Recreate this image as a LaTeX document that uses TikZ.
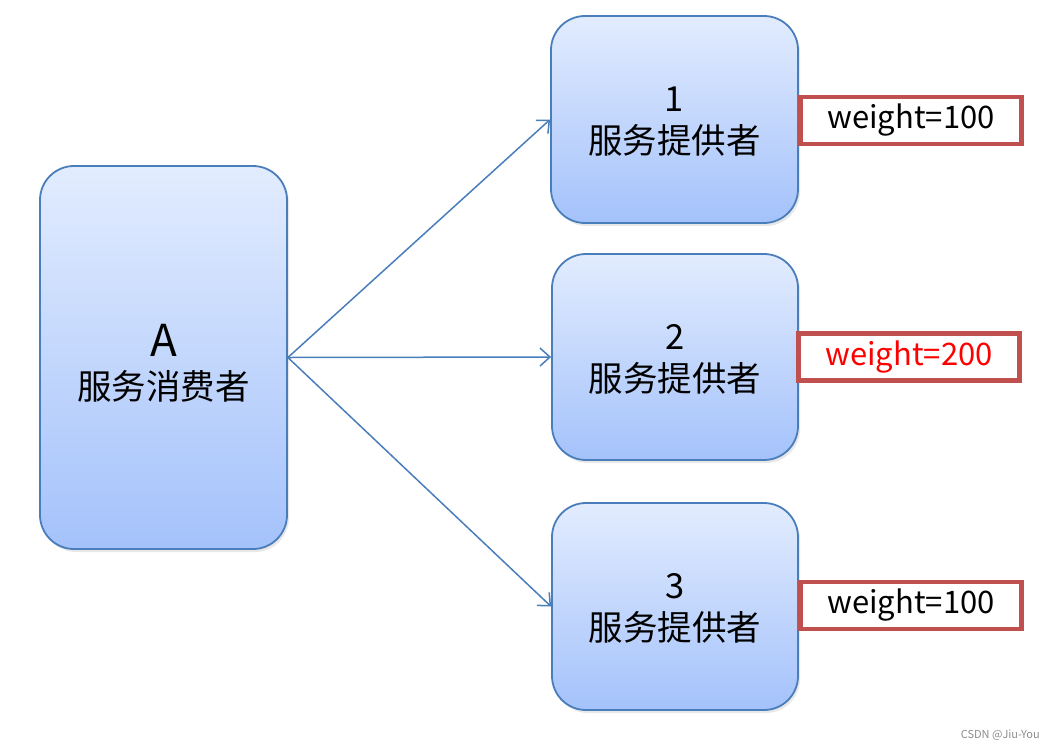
\documentclass[tikz,border=0pt]{standalone}
\usepackage{fontspec}
\setmainfont{Noto Sans CJK SC}
\usetikzlibrary{arrows.meta,shadows}
\definecolor{boxborder}{HTML}{4A7EBB}
\definecolor{boxtop}{HTML}{E2ECFE}
\definecolor{boxbot}{HTML}{A4C2FB}
\definecolor{wborder}{HTML}{C0504D}
\definecolor{arrowc}{HTML}{4A7EBB}
\definecolor{wred}{HTML}{FF0000}
\tikzset{
  rolebox/.style={draw=boxborder, line width=1.8pt, rounded corners=34pt,
    top color=boxtop, bottom color=boxbot, align=center,
    font=\fontsize{34.5}{42}\selectfont, inner sep=0pt,
    drop shadow={opacity=0.18, shadow xshift=2pt, shadow yshift=-3pt}},
  boxtext/.style={align=center, font=\fontsize{34.5}{42}\selectfont, inner sep=0pt},
  weightbox/.style={draw=wborder, line width=4.5pt, fill=white,
    minimum width=221pt, minimum height=47pt, inner sep=0pt,
    font=\fontsize{31}{32}\selectfont},
  link/.style={draw=arrowc, line width=1.5pt, -{Straight Barb[length=10pt,width=18pt,line width=1.5pt]}}
}
\begin{document}
\begin{tikzpicture}[x=1pt,y=-1pt]
\useasboundingbox (0,0) rectangle (1054,750);
\node[rolebox, minimum width=247pt, minimum height=383pt] (A) at (163.5,357.5) {};
\node[boxtext] (At) at (163.5,363) {{\fontsize{44}{44}\selectfont A}\\[1pt]服务消费者};
\node[rolebox, minimum width=247pt, minimum height=207pt] (P1) at (674.5,119.5) {};
\node[boxtext] (P1t) at (674.5,121.5) {1\\服务提供者};
\node[rolebox, minimum width=246pt, minimum height=206pt] (P2) at (675,357) {};
\node[boxtext] (P2t) at (675,359) {2\\服务提供者};
\node[rolebox, minimum width=246pt, minimum height=207pt] (P3) at (675,606.5) {};
\node[boxtext] (P3t) at (675,608.5) {3\\服务提供者};
\node[weightbox] (W1) at (911,120.5) {weight=100};
\node[weightbox, text=wred] (W2) at (909,357) {weight=200};
\node[weightbox] (W3) at (911,605.5) {weight=100};
\draw[link] (A.east) -- (P1.west);
\draw[link] (A.east) -- (P2.west);
\draw[link] (A.east) -- (P3.west);
\node[anchor=east, text=black!45, font=\fontsize{11}{13}\selectfont, inner sep=0pt] (WM) at (1040,735) {CSDN @Jiu-You};
\end{tikzpicture}
\end{document}
